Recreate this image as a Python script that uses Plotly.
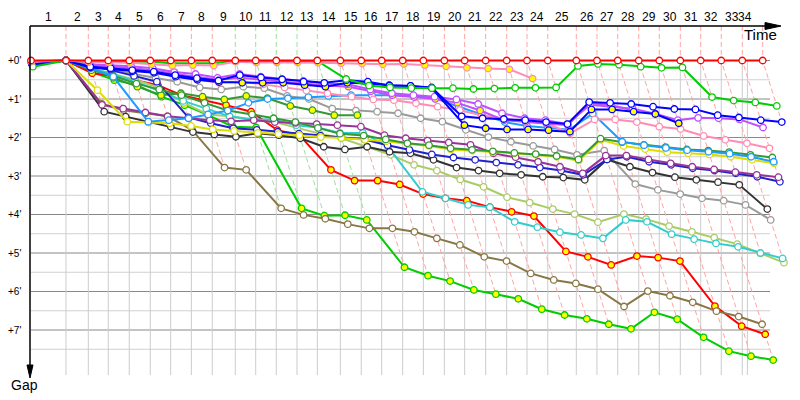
import plotly.graph_objects as go

# ---------------- data ----------------
# leader cumulative time (minutes) at each lap crossing, lap 0 = start
LAP_TIMES = [0, 2.93, 4.80, 6.47, 8.23, 9.99, 11.70, 13.43, 15.18, 17.11, 18.82,
             20.54, 22.28, 23.98, 25.91, 27.66, 29.37, 31.13, 32.86, 34.62, 36.32,
             38.08, 39.84, 41.54, 43.28, 45.67, 47.40, 49.14, 50.90, 52.62, 54.38,
             56.09, 57.81, 59.57, 61.28]
RACE_END = 60.0
LAP_LABELS = [str(i) for i in range(1, 35)]
NEUTRAL_LAPS = [9, 10, 11, 12, 13]
GAP_TICKS = [0, 1, 2, 3, 4, 5, 6, 7]

# gap to leader (minutes) at each completed lap, index = lap
GAP_RED_W = [0] * 35
GAP_PINK_Y = [0.03, 0, 0.04, 0.05, 0.06, 0.10, 0.13, 0.12, 0.13, 0.03, 0.05, 0.05, 0.05, 0.06,
              0.07, 0.08, 0.10, 0.09, 0.12, 0.15, 0.19, 0.21, 0.23, 0.47]
GAP_GREEN_W = [0.16, 0, 0.03, 0.03, 0.03, 0.03, 0.07, 0.07, 0.07, 0.01, 0.01, 0.01, 0.01, 0.01,
               0.48, 0.65, 0.70, 0.72, 0.72, 0.72, 0.74, 0.73, 0.71, 0.71, 0.70, 0.14, 0.09,
               0.11, 0.16, 0.19, 0.18, 0.95, 1.04, 1.09, 1.18]
GAP_BLUE_W = [0.12, 0, 0.16, 0.20, 0.25, 0.29, 0.38, 0.46, 0.52, 0.38, 0.44, 0.49, 0.55, 0.58,
              0.51, 0.55, 0.65, 0.66, 0.70, 1.45, 1.50, 1.52, 1.55, 1.60, 1.65, 1.08, 1.10,
              1.13, 1.20, 1.26, 1.27, 1.42, 1.48, 1.55, 1.60]
GAP_BLUE_Y = [0.10, 0, 0.18, 0.22, 0.28, 0.32, 0.42, 0.50, 0.56, 0.58, 0.58, 0.58, 0.64, 0.68,
              0.58, 0.60, 0.64, 0.66, 0.72, 1.68, 1.76, 1.79, 1.79, 1.81, 1.85, 1.27, 1.27,
              1.33, 1.39, 1.63]
GAP_VIOLET_W = [0.08, 0, 0.10, 0.12, 0.15, 0.20, 0.30, 0.35, 0.45, 0.35, 0.42, 0.48, 0.53, 0.60,
                0.62, 0.75, 0.85, 0.90, 0.94, 1.01, 1.13, 1.37, 1.50, 1.55, 1.65, 1.15, 1.20,
                1.25, 1.38, 1.55, 1.49, 1.50, 1.53, 1.74]
GAP_VIOLET_Y = [0.08, 0, 0.12, 0.15, 0.20, 0.25, 0.35, 0.42, 0.50, 0.45, 0.50, 0.55, 0.60, 0.65,
                0.68, 0.80, 0.90, 0.95, 1.00, 1.10, 1.30, 1.55, 1.59, 1.63, 1.68, 1.10, 1.16, 1.29]
GAP_PINK_W = [0.05, 0, 0.10, 0.15, 0.20, 0.27, 0.40, 0.50, 0.58, 0.55, 0.62, 0.70, 0.78, 0.85,
              0.94, 1.01, 1.03, 1.11, 1.20, 1.29, 1.42, 1.50, 1.59, 1.63, 1.89, 1.53, 1.53,
              1.60, 1.72, 1.78, 1.96, 2.06, 2.15, 2.28]
GAP_SKYBLUE = [0.10, 0, 0.20, 0.42, 1.59, 1.55, 1.50, 1.40, 1.30, 1.10, 1.00, 0.98, 0.95, 0.92,
               0.90, 0.90, 0.90, 0.92, 0.98, 1.20, 1.40, 1.60, 1.70, 1.75, 1.80, 1.38, 2.11,
               2.20, 2.27, 2.33, 2.37, 2.42, 2.50, 2.63]
GAP_DKGREEN_W = [0.05, 0, 0.25, 0.40, 0.60, 0.75, 0.90, 1.10, 1.30, 1.40, 1.50, 1.60, 1.75, 1.90,
                 1.95, 2.05, 2.15, 2.20, 2.28, 2.32, 2.36, 2.40, 2.43, 2.48, 2.57, 2.03, 2.12,
                 2.19, 2.25, 2.31, 2.34, 2.38, 2.45, 2.52]
GAP_DKGREEN_Y = [0.05, 0, 0.20, 0.45, 0.68, 0.90, 0.85, 0.94, 1.01, 0.92, 0.98, 1.18, 1.29, 1.42, 1.42]
GAP_YELLOW = [0.03, 0, 0.77, 1.59, 1.61, 1.63, 1.70, 1.79, 1.83, 1.88, 1.91, 1.94, 1.99, 2.01,
              2.06, 2.10, 2.17, 2.22, 2.31, 2.34, 2.38, 2.41, 2.45, 2.50, 2.60, 2.06, 2.22,
              2.30, 2.38, 2.41, 2.44, 2.50, 2.58, 2.67]
GAP_PURPLE = [0.05, 0, 1.15, 1.25, 1.35, 1.45, 1.50, 1.55, 1.58, 1.55, 1.60, 1.62, 1.65, 1.68,
              1.72, 1.94, 2.02, 2.08, 2.13, 2.19, 2.41, 2.51, 2.63, 2.76, 2.93, 2.47, 2.47,
              2.57, 2.67, 2.76, 2.83, 2.90, 2.97, 3.03]
GAP_DARKBLUE = [0.05, 0, 0.12, 0.25, 0.40, 0.55, 1.48, 1.63, 1.76, 1.80, 1.85, 1.90, 1.95, 2.00,
                2.05, 2.20, 2.32, 2.44, 2.52, 2.58, 2.65, 2.71, 2.78, 2.86, 2.97, 2.57, 2.50,
                2.63, 2.71, 2.80, 2.86, 2.93, 3.02, 3.15]
GAP_BLACK = [0.03, 0, 1.33, 1.46, 1.60, 1.72, 1.86, 1.92, 1.98, 1.89, 1.94, 2.02, 2.24, 2.31,
             2.24, 2.37, 2.41, 2.58, 2.78, 2.86, 2.93, 2.97, 3.02, 3.04, 3.10, 2.57, 2.76,
             2.91, 3.03, 3.10, 3.16, 3.23, 3.86]
GAP_GREY = [0.05, 0, 0.15, 0.25, 0.35, 0.45, 0.55, 0.70, 0.75, 0.68, 0.72, 0.92, 1.00, 1.25,
            1.30, 1.33, 1.37, 1.50, 1.59, 1.80, 1.99, 2.11, 2.22, 2.31, 2.45, 2.34, 3.21,
            3.36, 3.47, 3.58, 3.64, 3.75, 4.14]
GAP_CYAN = [0.05, 0, 0.20, 0.35, 0.55, 0.80, 1.05, 1.25, 1.45, 1.53, 1.53, 1.68, 1.74, 1.88,
            1.88, 2.24, 3.41, 3.58, 3.75, 3.81, 4.19, 4.33, 4.46, 4.53, 4.62, 4.14, 4.19,
            4.51, 4.64, 4.75, 4.84, 5.00, 5.14]
GAP_LIGHTGREEN = [0.05, 0, 0.20, 0.35, 0.50, 0.70, 1.10, 1.40, 1.45, 1.55, 1.60, 1.75, 1.90, 2.02,
                  2.24, 2.45, 2.71, 2.86, 3.09, 3.28, 3.55, 3.69, 3.86, 3.99, 4.20, 3.99, 4.12,
                  4.30, 4.45, 4.60, 4.77, 5.01, 5.25]
GAP_OLIVE = [0.05, 0, 1.13, 1.29, 1.37, 1.45, 1.81, 2.78, 2.84, 3.84, 4.01, 4.11, 4.25, 4.36,
             4.36, 4.45, 4.62, 4.79, 5.10, 5.21, 5.53, 5.70, 5.79, 5.94, 6.39, 5.99, 6.11,
             6.28, 6.51, 6.65, 6.85]
GAP_RED_Y = [0.02, 0, 0.33, 0.40, 0.51, 0.64, 0.90, 1.03, 1.16, 1.33, 1.81, 1.94, 2.84, 3.12,
             3.12, 3.22, 3.47, 3.58, 3.64, 3.81, 3.93, 4.04, 4.96, 5.10, 5.31, 5.08, 5.12,
             5.21, 6.38, 6.90, 7.11]
GAP_GREEN_Y = [0.10, 0, 0.30, 0.51, 0.64, 0.94, 1.16, 1.42, 1.72, 1.74, 3.84, 4.03, 4.02, 4.14,
               5.37, 5.59, 5.73, 5.96, 6.07, 6.19, 6.46, 6.61, 6.71, 6.85, 6.97, 6.54, 6.72,
               7.19, 7.55, 7.68, 7.78]

# ---------------- styling ----------------
W, H = 800, 400
L, R, T, B = 31, 10, 26, 25
PX_PER_MIN_X = 11.94
PX_PER_MIN_Y = 38.5
plot_w = W - L - R
plot_h = H - T - B
X_RANGE = [0, plot_w / PX_PER_MIN_X]
Y_TOP = -(60.5 - T) / PX_PER_MIN_Y
Y_RANGE = [Y_TOP + plot_h / PX_PER_MIN_Y, Y_TOP]


def px_x(p):
    return (p - L) / plot_w


def px_y(p):
    return (H - B - p) / plot_h


YELLOW_FILL = '#FFFF00'
WHITE = '#FFFFFF'

series = [
    (GAP_GREEN_Y, '#00CC00', YELLOW_FILL),
    (GAP_RED_Y, '#FF0000', YELLOW_FILL),
    (GAP_OLIVE, '#887744', WHITE),
    (GAP_LIGHTGREEN, '#AACC66', WHITE),
    (GAP_CYAN, '#33CCCC', WHITE),
    (GAP_GREY, '#9A9A9A', WHITE),
    (GAP_BLACK, '#333333', WHITE),
    (GAP_DKGREEN_Y, '#339933', YELLOW_FILL),
    (GAP_DARKBLUE, '#2020CC', WHITE),
    (GAP_PURPLE, '#993399', WHITE),
    (GAP_YELLOW, '#DDDD00', WHITE),
    (GAP_DKGREEN_W, '#339933', WHITE),
    (GAP_SKYBLUE, '#1E9BFF', WHITE),
    (GAP_PINK_W, '#FF8CB4', WHITE),
    (GAP_VIOLET_Y, '#BF4FFF', YELLOW_FILL),
    (GAP_VIOLET_W, '#BF4FFF', WHITE),
    (GAP_BLUE_Y, '#0000FF', YELLOW_FILL),
    (GAP_BLUE_W, '#0000FF', WHITE),
    (GAP_GREEN_W, '#00CC00', WHITE),
    (GAP_PINK_Y, '#FF8CB4', YELLOW_FILL),
    (GAP_RED_W, '#FF0000', WHITE),
]

fig = go.Figure()
shapes = []
annotations = []

# horizontal grid
x_grid_end = (770 - L) / PX_PER_MIN_X
for i in range(0, 16):
    g = i * 0.5
    major = (i % 2 == 0)
    shapes.append(dict(type='line', xref='x', yref='y', x0=0, x1=x_grid_end, y0=g, y1=g,
                       line=dict(color='#888888' if major else '#D0D0D0', width=1), layer='below'))

# vertical grid (lap crossings of leader + race end)
for t in LAP_TIMES[1:34] + [RACE_END]:
    shapes.append(dict(type='line', xref='x', yref='y', x0=t, x1=t, y0=0, y1=Y_RANGE[0],
                       line=dict(color='#CCCCCC', width=1), layer='below'))

# lap lines (dashed) through each car's crossing of that lap
all_gaps = [s[0] for s in series]
for k in range(1, 35):
    gmax = max(g[k] for g in all_gaps if len(g) > k)
    t = LAP_TIMES[k]
    col = '#9EE09E' if k in NEUTRAL_LAPS else '#FFA3A3'
    fig.add_trace(go.Scatter(x=[t, t, t + gmax], y=[Y_TOP, 0, gmax], mode='lines',
                             line=dict(color=col, width=1, dash='5px,3px'),
                             hoverinfo='skip', showlegend=False))

# car traces: x = leader time at that lap + gap
for gaps, col, fill in series:
    xs = [LAP_TIMES[k] + g for k, g in enumerate(gaps)]
    fig.add_trace(go.Scatter(x=xs, y=gaps, mode='lines+markers',
                             line=dict(color=col, width=2),
                             marker=dict(size=6.5, color=fill, line=dict(color=col, width=1.3)),
                             showlegend=False, cliponaxis=False))

# axes lines and arrows (paper coordinates)
shapes.append(dict(type='line', xref='paper', yref='paper', x0=px_x(30), x1=px_x(768),
                   y0=px_y(26), y1=px_y(26), line=dict(color='black', width=1.5)))
shapes.append(dict(type='path', xref='paper', yref='paper',
                   path=f'M {px_x(765)} {px_y(22.5)} L {px_x(781)} {px_y(26)} L {px_x(765)} {px_y(29.5)} Z',
                   fillcolor='black', line=dict(color='black', width=1)))
shapes.append(dict(type='line', xref='paper', yref='paper', x0=px_x(30), x1=px_x(30),
                   y0=px_y(26), y1=px_y(367), line=dict(color='black', width=1.5)))
shapes.append(dict(type='path', xref='paper', yref='paper',
                   path=f'M {px_x(27)} {px_y(365)} L {px_x(30)} {px_y(378)} L {px_x(33)} {px_y(365)} Z',
                   fillcolor='black', line=dict(color='black', width=1)))

FONT = 'Liberation Sans, Arial, sans-serif'
# lap labels
bounds = LAP_TIMES[:34] + [RACE_END]
for i, lab in enumerate(LAP_LABELS):
    xc = (bounds[i] + bounds[i + 1]) / 2
    annotations.append(dict(x=xc, y=px_y(17.5), xref='x', yref='paper', text=lab, showarrow=False,
                            font=dict(family=FONT, size=12, color='black'),
                            xanchor='center', yanchor='middle'))
# gap labels
for g in GAP_TICKS:
    annotations.append(dict(x=px_x(23), y=g, xref='paper', yref='y', text=f"+{g}'", showarrow=False,
                            font=dict(family=FONT, size=10, color='black'),
                            xanchor='right', yanchor='middle'))
annotations.append(dict(x=px_x(760), y=px_y(35), xref='paper', yref='paper', text='Time',
                        showarrow=False, font=dict(family=FONT, size=15, color='black'),
                        xanchor='center', yanchor='middle'))
annotations.append(dict(x=px_x(24.5), y=px_y(385), xref='paper', yref='paper', text='Gap',
                        showarrow=False, font=dict(family=FONT, size=14, color='black'),
                        xanchor='center', yanchor='middle'))

fig.update_layout(
    width=W, height=H,
    margin=dict(l=L, r=R, t=T, b=B, autoexpand=False),
    paper_bgcolor='white', plot_bgcolor='white',
    xaxis=dict(range=X_RANGE, visible=False, fixedrange=True),
    yaxis=dict(range=Y_RANGE, visible=False, fixedrange=True),
    shapes=shapes, annotations=annotations, showlegend=False,
)

fig.write_html('out.html', config={'displayModeBar': False},
               post_script="document.body.style.margin='0px';document.body.style.overflow='hidden';")
